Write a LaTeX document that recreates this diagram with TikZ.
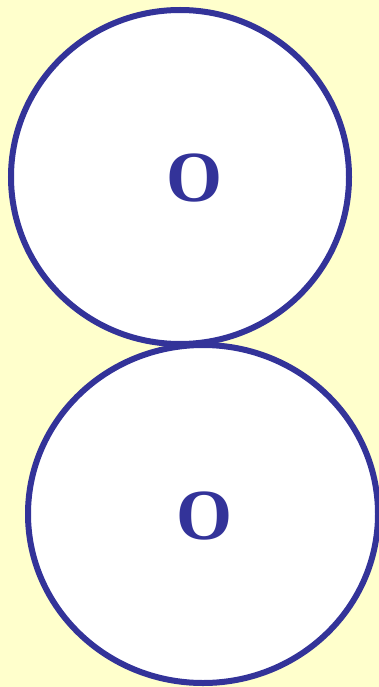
\documentclass[tikz,border=0pt]{standalone}
\usepackage{fontspec}
\setmainfont{Liberation Serif}
\definecolor{bgyellow}{HTML}{FFFFCC}
\definecolor{ringblue}{HTML}{333399}
\tikzset{
  ring/.style={draw=ringblue, line width=6pt, fill=white},
  letter/.style={text=ringblue, font=\fontsize{72}{72}\selectfont\bfseries, inner sep=0pt}
}
\begin{document}
\begin{tikzpicture}[x=1pt, y=-1pt]
  % fundo
  \fill[bgyellow] (0,0) rectangle (379,687);
  \useasboundingbox (0,0) rectangle (379,687);
  % circulo de cima
  \draw[ring] (180,177) ellipse (169 and 167);
  \node[letter] (topO) at (194,178) {O};
  % circulo de baixo
  \draw[ring] (203,514) ellipse (175 and 169);
  \node[letter] (botO) at (204,516) {O};
\end{tikzpicture}
\end{document}
